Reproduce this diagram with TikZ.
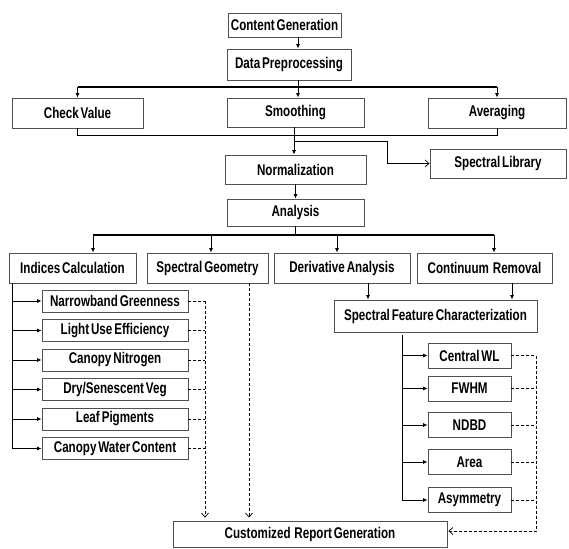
\documentclass[tikz,border=0pt]{standalone}
\usepackage{fontspec}
\setmainfont[FakeStretch=0.75,WordSpace=0.6]{Liberation Sans}
\usetikzlibrary{arrows.meta}
\definecolor{boxline}{RGB}{80,80,80}

\begin{document}
\begin{tikzpicture}[x=1pt,y=-1pt,
  box/.style={draw=boxline, line width=0.9pt, inner sep=0pt, font=\bfseries\fontsize{15.5}{17}\selectfont},
  arr/.style={-{Latex[length=4.5pt,width=4pt]}, line width=0.8pt},
  barb/.style={-{Straight Barb[length=4pt,width=7pt]}, line width=0.7pt},
  bus/.style={line width=2.4pt},
  dashline/.style={dash pattern=on 3pt off 2pt, line width=0.9pt}]
  \path[fill=white] (0,0) rectangle (569,548);
  % top of the chain
  \node[box, minimum width=113, minimum height=24] (cg) at (284.5,25) {Content Generation};
  \node[box, minimum width=124, minimum height=31] (dp) at (289,64.5) {Data Preprocessing};
  \node[box, minimum width=131, minimum height=30] (cv) at (77.5,113) {Check Value};
  \node[box, minimum width=137, minimum height=29] (sm) at (295.5,112.5) {Smoothing};
  \node[box, minimum width=138, minimum height=30] (av) at (497,113) {Averaging};
  \node[box, minimum width=136, minimum height=29] (sl) at (498,163.5) {Spectral Library};
  \node[box, minimum width=141, minimum height=29] (nm) at (295.5,169.5) {Normalization};
  \node[box, minimum width=137, minimum height=27] (an) at (295.5,212.5) {Analysis};
  % analysis branches
  \node[box, minimum width=127, minimum height=30] (ic) at (72.5,268) {Indices Calculation};
  \node[box, minimum width=121, minimum height=30] (sg) at (207.5,268) {Spectral Geometry};
  \node[box, minimum width=136, minimum height=30] (da) at (342,268) {Derivative Analysis};
  \node[box, minimum width=135, minimum height=30] (cr) at (484.5,268) {Continuum~ Removal};
  \node[box, minimum width=203, minimum height=32] (sfc) at (435.5,316) {Spectral Feature Characterization};
  \foreach \lbl [count=\i] in {Narrowband Greenness, Light Use Efficiency, Canopy Nitrogen,
      Dry/Senescent Veg, Leaf Pigments, Canopy Water Content}
    \node[box, minimum width=146, minimum height=22] (l\i) at (115,271.5+29.5*\i) {\lbl};
  \foreach \lbl/\yy [count=\i] in {Central WL/355.5, FWHM/388.5, NDBD/425, Area/462, Asymmetry/500}
    \node[box, minimum width=83, minimum height=25] (r\i) at (469.5,\yy) {\lbl};
  \node[box, minimum width=274, minimum height=26] (rep) at (310,534) {Customized~ Report Generation};

  % connectors
  \coordinate (spine) at (298,0);
  \coordinate (busa) at (0,87);
  \coordinate (busb) at (0,235);
  \coordinate (tap) at (294,141);
  \coordinate (fork) at (402,335);
  \draw[arr] (cg.south -| spine) -- (dp.north -| spine);
  \draw[bus] (cv.north |- busa) -- (av.north |- busa);
  \draw[arr] (dp.south -| spine) -- (sm.north -| spine);
  \foreach \nd in {cv,av}
    \draw[arr] (\nd.north |- busa) -- (\nd.north);
  \draw[line width=0.9pt] (cv.south) -- ++(0,7) -| (av.south);
  \draw[arr] (sm.south -| tap) -- (nm.north -| tap);
  \draw[barb] (tap) -| ([xshift=-42pt]sl.west) -- (sl.west);
  \draw[arr] (nm) -- (an);
  \draw[line width=0.9pt] (an.south) -- (an.south |- busb);
  \draw[bus] (busb -| 93,0) -- (busb -| 494,0);
  \foreach \xx/\nd in {93/ic,211/sg,337/da,494/cr}
    \draw[arr] (busb -| \xx,0) -- (\nd.north -| \xx,0);
  \draw[arr] (da.south -| 368,0) -- (sfc.north -| 368,0);
  \draw[arr] (cr.south -| 512,0) -- (sfc.north -| 512,0);
  \foreach \i in {1,...,6}
    \draw[arr] (ic.south -| 12,0) |- (l\i.west);
  \foreach \i in {1,...,5}
    \draw[arr] (fork) |- (r\i.west);

  % dashed returns
  \foreach \i in {1,...,6}
    \draw[dashline] (l\i.east) -- (l\i.east -| 205,0);
  \draw[dashline, barb, shorten >=3pt] (l1.east -| 205,0) -- (rep.north -| 205,0);
  \draw[dashline, barb, shorten >=3pt] (sg.south -| 249,0) -- (rep.north -| 249,0);
  \foreach \i in {1,...,5}
    \draw[dashline] (r\i.east) -- (r\i.east -| 536,0);
  \draw[dashline, barb, shorten >=1pt] (r1.east -| 536,0) |- ([yshift=3pt]rep.east);
\end{tikzpicture}
\end{document}
